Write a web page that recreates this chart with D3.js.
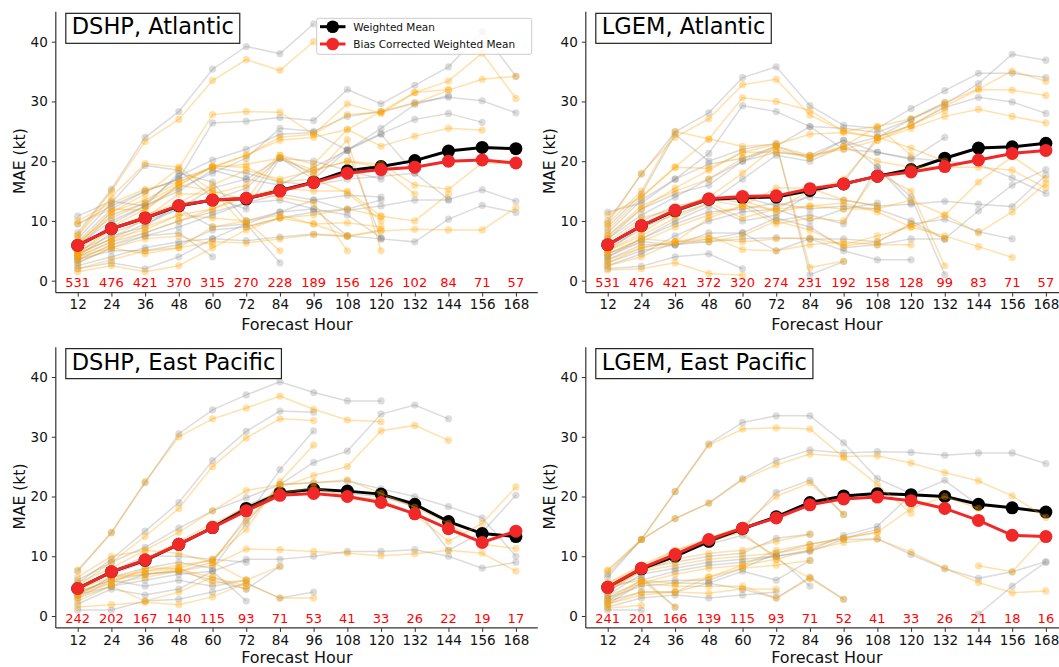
<!DOCTYPE html>
<html><head><meta charset="utf-8">
<script src="https://cdn.jsdelivr.net/npm/d3@7"></script>
<style>body{margin:0;background:#fff}svg{display:block;font-family:"DejaVu Sans",sans-serif}</style>
</head><body><svg id="c" width="1059" height="667"></svg>
<script>
const hours = [12,24,36,48,60,72,84,96,108,120,132,144,156,168];
const yTicks = [0,10,20,30,40];

// ---- DSHP, Atlantic ----
const dshpAtlMean  = [5.9,8.7,10.5,12.5,13.5,13.7,15.1,16.5,18.4,19.1,20.1,21.7,22.3,22.1];
const dshpAtlBias  = [5.9,8.7,10.5,12.6,13.5,13.8,15.0,16.4,18.0,18.6,19.0,20.0,20.2,19.7];
const dshpAtlCount = [531,476,421,370,315,270,228,189,156,126,102,84,71,57];
const dshpAtlRaw = [
 [8.0,15.3,24.0,28.3,35.4,39.2,38.0,43.0],
 [6.5,12.0,15.0,17.0,26.4,26.7,27.3,26.8,32.0,29.6,32.7,35.8,41.7,34.2],
 [5.0,9.5,12.5,15.5,18.0,20.5,25.5,25.0,27.5,28.3,29.8,30.7,30.1,28.1],
 [7.0,13.0,19.3,18.5,14.0,12.0,20.5,18.0,22.0,24.6,27.0,28.0,26.5],
 [4.0,8.0,10.0,12.0,15.5,17.0,16.0,19.0,21.8,24.5,18.0,13.6,15.2,13.3],
 [3.0,5.5,7.5,9.0,11.0,13.0,14.5,13.5,14.3,14.0],
 [2.5,4.0,5.5,6.5,7.0,6.7,7.3,7.8,7.5,7.0,6.5,10.3,12.6,11.4],
 [5.5,11.0,13.0,17.5,20.2,22.0,24.5,24.8,21.8,25.5,29.5,31.0],
 [3.5,6.0,7.5,8.0,4.0],
 [4.5,7.0,9.5,12.0,9.0,9.5,3.0],
 [9.5,12.5,15.0,17.0,19.0,18.0,16.5,16.0,17.0,17.5,18.0],
 [6.0,10.0,12.5,18.0,16.5,10.0,11.5,12.0,11.0,7.2],
 [2.0,3.0,2.0,4.0,7.0,9.5,11.5,13.5,11.8,12.5,13.5,13.5],
 [10.8,13.3,12.5,15.0,18.5,17.0,20.5,20.0,18.5,17.0],
 [3.5,5.0,5.0,6.0,8.5,9.0,10.5,11.5,12.0,13.5],
 [5.0,7.5,9.0,13.0,13.5,15.5,20.5,17.0,21.8,7.0],
 [4.0,6.5,8.0,10.0,11.5,13.0,13.5,12.0,7.5]
];
const dshpAtlCor = [
 [7.6,15.0,23.3,27.0,33.5,37.0,35.2,40.0],
 [6.0,11.5,14.5,18.8,27.8,28.3,28.2,24.5,29.6,28.0,31.5,33.4,38.1,30.5],
 [4.5,9.0,12.0,16.0,19.0,21.0,24.0,24.5,27.8,28.2,29.7,31.9,33.7,34.2],
 [7.5,14.0,19.6,19.0,15.0,13.5,21.0,19.5,25.3,22.5,24.2,25.5,25.2],
 [4.5,8.5,11.0,13.0,16.0,18.5,17.0,18.5,20.0,19.5,16.0,15.3,19.7,19.6],
 [3.5,6.0,8.0,10.0,12.0,14.0,15.5,15.0,15.0,10.8],
 [2.0,3.5,5.0,5.5,6.5,6.3,7.0,7.7,7.4,8.3,8.6,8.5,8.5,12.2],
 [6.0,11.5,13.5,16.5,19.0,21.0,23.5,24.0,25.3,28.3,31.5,32.0],
 [3.0,5.5,7.0,7.5,6.0],
 [4.0,6.5,9.0,11.0,10.5,10.0,5.0],
 [10.0,13.0,15.3,16.5,19.0,19.5,20.5,18.5,20.0,19.0,14.5],
 [6.5,10.5,13.0,16.0,15.0,9.0,10.5,9.5,9.7,9.0],
 [1.5,2.5,1.5,2.5,5.5,8.5,10.5,11.0,12.0,10.8,10.0,14.5],
 [9.5,12.0,11.8,16.0,19.2,19.0,16.5,17.0,14.7,10.0],
 [4.0,5.5,4.5,5.5,9.0,10.0,11.0,9.5,7.5,8.5],
 [4.5,7.0,10.5,14.5,14.5,16.0,21.0,17.5,23.6,5.0],
 [4.5,7.0,8.5,11.0,12.0,14.5,14.0,13.0,5.0]
];

// ---- LGEM, Atlantic ----
const lgemAtlMean  = [6.0,9.2,11.7,13.6,13.9,14.0,15.1,16.2,17.5,18.6,20.5,22.2,22.4,23.0];
const lgemAtlBias  = [6.0,9.2,11.8,13.7,14.1,14.2,15.4,16.2,17.5,18.2,19.1,20.2,21.3,21.8];
const lgemAtlCount = [531,476,421,372,320,274,231,192,158,128,99,83,71,57];
const lgemAtlRaw = [
 [10.0,17.8,24.9,28.1,34.0,35.8,29.3,26.0,25.5,28.8,31.8,34.7,34.7,34.0],
 [8.0,13.5,17.0,21.3,29.3,28.3,25.8,22.0,21.5,20.3,24.0],
 [7.0,11.0,14.0,17.0,20.0,22.5,25.8,25.5,24.8,27.0,29.5,33.0,37.9,36.9],
 [5.0,9.0,11.0,13.0,17.0,21.0,20.0,22.5,24.0,26.0,29.0,30.7,29.9,28.0],
 [3.0,5.0,6.0,6.5,7.0,7.2,7.0,7.0,6.5,9.5,10.3,8.2,7.0],
 [4.0,7.0,9.5,11.5,12.0,13.0,12.0,12.5,12.0,10.0,7.0,11.7,16.0,18.6],
 [6.0,10.0,12.5,13.5,14.0,12.5,14.0,13.5,12.5,12.8,13.3,12.8,12.4,17.7],
 [7.0,12.0,14.5,16.0,20.0,21.5,21.0,23.5,21.5,20.5,20.0,19.5,17.2,14.6],
 [5.5,8.5,12.0,14.0,13.0,10.0,11.0,9.5,19.0,14.0,1.0],
 [9.0,14.5,24.5,20.0,22.0,23.0,1.0,3.2],
 [2.0,2.4,4.0,4.5,2.0],
 [4.5,7.0,10.0,12.5,10.0,11.0,14.5,16.5,24.0,27.0,29.8],
 [3.5,6.0,6.0,7.0,8.0,10.5,9.0,5.5,6.0,7.0,7.0],
 [2.5,4.5,7.5,10.0,11.5,12.0,10.0,12.0,13.0],
 [11.5,13.0,17.0,19.5,20.5,22.5,20.5,23.5,19.0,13.0],
 [4.0,6.5,6.0,8.0,8.0,5.0,7.0,5.0,3.5,3.5]
];
const lgemAtlCor = [
 [9.5,18.0,24.0,27.1,32.8,33.7,27.7,25.0,25.8,27.1,29.8,32.1,35.1,33.4],
 [8.5,14.0,19.0,23.7,30.6,30.0,28.5,25.0,24.0,22.2,20.0],
 [7.5,12.0,15.5,18.5,21.5,22.8,24.5,24.8,24.0,26.0,29.2,32.0,31.9,31.0],
 [5.5,9.5,12.0,14.0,18.0,22.5,21.0,22.0,23.5,25.5,27.5,28.7,27.5,26.4],
 [3.5,5.5,6.5,7.0,6.5,7.0,7.2,6.0,7.5,9.0,7.5,5.7,3.9],
 [4.5,6.5,9.0,11.0,12.5,12.0,12.5,13.0,11.5,9.0,11.0,16.5,20.8,17.0],
 [6.5,10.5,12.0,14.0,13.5,11.5,12.5,12.0,12.0,13.5,11.0,8.0,11.5,16.3],
 [7.5,12.5,15.0,17.0,20.5,22.0,20.5,22.5,20.0,19.0,19.0,19.0,18.5,15.5],
 [5.0,8.0,11.5,13.5,12.5,9.5,10.5,10.0,18.0,15.0,2.5],
 [9.5,15.0,25.0,23.7,22.5,22.8,2.2,3.3],
 [1.8,2.0,3.0,1.2,0.9],
 [5.0,7.5,10.5,13.0,10.5,12.0,15.0,17.0,23.5,26.0,28.5],
 [3.0,5.5,6.5,6.5,7.5,10.0,8.5,5.8,6.5,9.5,7.0],
 [2.5,4.0,6.5,10.5,12.5,15.5,15.5,13.5,12.5],
 [11.0,14.0,19.0,18.8,21.5,21.5,20.8,22.5,25.8,21.0],
 [4.5,7.0,6.5,7.5,5.2,5.0,6.0,6.5,6.0,6.0]
];

// ---- DSHP, East Pacific ----
const dshpEpMean  = [4.6,7.4,9.3,12.0,14.8,18.0,20.6,21.2,20.9,20.4,18.7,15.8,13.8,13.3];
const dshpEpBias  = [4.6,7.4,9.4,12.0,14.8,17.6,20.2,20.5,20.0,19.0,17.1,14.6,12.3,14.2];
const dshpEpCount = [242,202,167,140,115,93,71,53,41,33,26,22,19,17];
const dshpEpRaw = [
 [7.5,14.0,22.3,30.5,34.5,37.0,39.2,37.4,36.0,36.0],
 [5.5,9.5,14.2,19.0,26.0,30.9,34.3,34.1],
 [4.0,6.0,7.0,7.5,9.0,16.5,24.5,31.0],
 [3.5,6.5,8.0,9.0,8.0,15.5,22.0,25.7,27.6,33.8,35.3,33.0],
 [6.0,9.0,11.5,14.7,17.6,19.8,22.0,22.3,22.6,21.3,20.0,18.3,16.4,10.0],
 [3.0,5.0,6.0,7.0,7.5,9.5,9.5,10.0,10.8,10.8,11.1,10.0,8.0,9.0],
 [4.5,7.0,9.0,12.0,15.0,18.5,20.8,21.0,20.5,20.0,18.3,11.0,14.0,20.2],
 [2.0,4.5,3.5,4.5,7.5,2.5],
 [1.0,1.0,2.5,2.8,4.0,5.5,3.0,4.0],
 [3.5,5.0,7.0,7.5,6.0,4.5,8.3],
 [5.0,7.5,10.0,10.0,9.5,9.0],
 [4.0,6.0,5.0,6.0,5.0,6.0]
];
const dshpEpCor = [
 [7.7,13.9,22.5,30.0,33.0,34.8,36.8,34.6,32.8,32.5],
 [5.0,9.0,13.3,18.0,25.0,29.8,33.0,32.7],
 [4.5,6.5,7.5,8.0,9.5,14.5,22.5,28.6],
 [3.0,6.0,7.5,8.5,9.3,16.0,21.5,23.5,25.0,31.0,31.9,29.4],
 [6.5,10.0,11.0,14.0,17.6,21.0,22.0,22.3,22.8,20.5,18.2,15.5,12.0,11.3],
 [3.5,5.5,6.5,7.5,8.5,11.2,11.1,10.8,10.5,10.1,10.4,11.0,10.5,7.5],
 [4.0,7.5,9.5,12.5,15.5,18.0,20.5,21.5,20.0,19.5,17.0,12.5,15.5,21.6],
 [2.5,5.0,2.5,4.0,6.5,4.5],
 [1.5,1.9,2.3,1.9,3.2,5.5,3.0,3.0],
 [4.0,5.5,8.0,8.0,5.5,6.0,8.3],
 [5.5,8.0,11.0,10.5,9.0,6.0],
 [3.5,6.5,7.0,7.8,6.5,5.0]
];

// ---- LGEM, East Pacific ----
const lgemEpMean  = [4.8,7.9,10.0,12.5,14.6,16.6,19.0,20.1,20.5,20.3,20.0,18.7,18.1,17.4];
const lgemEpBias  = [4.8,8.0,10.3,12.8,14.7,16.4,18.6,19.6,19.9,19.3,18.0,16.0,13.5,13.3];
const lgemEpCount = [241,201,166,139,115,93,71,52,41,33,26,21,18,16];
const lgemEpRaw = [
 [7.0,12.8,20.8,28.8,32.4,33.5,33.5,29.0,23.0,20.5],
 [6.5,12.8,16.3,18.9,23.0,26.0,27.8,27.3,27.5,27.4,26.9,27.3,27.3,25.5],
 [5.0,8.0,10.0,12.5,14.5,20.7,22.7,17.0],
 [3.5,7.0,8.0,9.0,9.5,10.0,11.0,13.5,15.0,20.3,22.7,18.5],
 [3.0,6.0,7.5,8.5,9.0,10.0,10.8,12.8,12.9,10.3,7.9,6.3,7.4,9.1],
 [null,null,null,null,null,null,null,null,null,null,null,0.3,5.0,9.0],
 [2.0,5.5,6.0,6.0,8.0,10.5,12.0,13.0,14.5],
 [1.5,3.0,3.5,3.0,3.5,4.0],
 [3.0,5.0,5.5,5.5,4.5,3.0,6.5,2.8],
 [4.0,8.0,9.0,10.0,10.5,13.0,13.7],
 [4.5,6.5,1.5],
 [2.5,4.0,4.0,5.5,7.5,6.0,9.3],
 [5.0,7.5,10.5,12.0,13.5,10.0,5.0],
 [1.0,1.0]
];
const lgemEpCor = [
 [7.7,12.8,20.8,28.6,31.3,31.5,31.3,26.5,22.0,17.2],
 [7.5,12.8,16.3,18.9,22.8,25.3,27.1,26.7,26.8,25.6,24.0,22.6,20.1,16.5],
 [5.5,8.5,11.0,13.0,15.0,20.0,22.3,17.0],
 [4.0,7.5,8.5,9.5,10.0,10.5,11.5,13.0,14.0,18.0,20.0,18.0],
 [2.5,5.5,7.0,8.0,8.5,9.5,11.0,12.3,12.9,10.7,8.0,5.6,3.9,4.2],
 [null,null,null,null,null,null,null,null,null,null,null,8.4,7.4,13.5],
 [2.5,6.0,5.5,6.5,8.5,11.0,12.0,13.0,14.0],
 [2.0,3.5,4.0,3.8,4.5,4.5],
 [3.5,5.5,5.0,5.0,5.0,3.0,6.3,2.8],
 [4.5,7.5,9.5,10.5,11.0,12.5,13.7],
 [5.0,6.0,1.5],
 [2.0,4.0,4.0,6.5,8.0,8.5,9.3],
 [5.5,8.0,11.0,12.5,14.0,9.5,6.3],
 [1.3,1.8]
];

const panels = [
 {title:"DSHP, Atlantic", mean:dshpAtlMean, bias:dshpAtlBias, count:dshpAtlCount, raw:dshpAtlRaw, cor:dshpAtlCor, x0:55.8, y0:280.7, legend:true},
 {title:"LGEM, Atlantic", mean:lgemAtlMean, bias:lgemAtlBias, count:lgemAtlCount, raw:lgemAtlRaw, cor:lgemAtlCor, x0:585.8, y0:280.7},
 {title:"DSHP, East Pacific", mean:dshpEpMean, bias:dshpEpBias, count:dshpEpCount, raw:dshpEpRaw, cor:dshpEpCor, x0:55.8, y0:616},
 {title:"LGEM, East Pacific", mean:lgemEpMean, bias:lgemEpBias, count:lgemEpCount, raw:lgemEpRaw, cor:lgemEpCor, x0:585.8, y0:616}
];

const svg = d3.select("#c");
const W = 482, PXU = 5.975;
const GRAY = "#808080", ORANGE = "#ffa500", RED = "#f02828";

panels.forEach(p => {
  const x = d3.scaleLinear().domain([4.2, 175.8]).range([p.x0, p.x0 + W]);
  const y = d3.scaleLinear().domain([0, 40]).range([p.y0, p.y0 - 40 * PXU]);
  const yBot = y(-2), yTop = y(45);
  const g = svg.append("g");
  const line = d3.line().defined(d => d[1] != null).x(d => x(d[0])).y(d => y(d[1]));

  function storms(sets, color, op) {
    sets.forEach(s => {
      const pts = s.map((v, i) => [hours[i], v]);
      g.append("path").attr("d", line(pts)).attr("fill", "none")
        .attr("stroke", color).attr("stroke-opacity", op).attr("stroke-width", 1.5);
      g.selectAll(null).data(pts.filter(d => d[1] != null)).join("circle")
        .attr("cx", d => x(d[0])).attr("cy", d => y(d[1])).attr("r", 3.6)
        .attr("fill", color).attr("fill-opacity", op);
    });
  }
  function meanLine(vals, color, w, r) {
    const pts = vals.map((v, i) => [hours[i], v]);
    g.append("path").attr("d", line(pts)).attr("fill", "none")
      .attr("stroke", color).attr("stroke-width", w);
    g.selectAll(null).data(pts).join("circle")
      .attr("cx", d => x(d[0])).attr("cy", d => y(d[1])).attr("r", r).attr("fill", color);
  }
  storms(p.raw, GRAY, 0.28);
  meanLine(p.mean, "#000", 3, 6.5);
  storms(p.cor, ORANGE, 0.33);
  meanLine(p.bias, RED, 3, 6.5);

  // counts
  g.selectAll(null).data(p.count).join("text")
    .attr("x", (d, i) => x(hours[i])).attr("y", y(0) + 6.5)
    .attr("text-anchor", "middle").attr("font-size", 13).attr("fill", "#ff0000")
    .text(d => d);

  // axes
  const xa = g.append("g").attr("transform", `translate(0,${yBot})`)
    .call(d3.axisBottom(x).tickValues(hours).tickSize(4).tickPadding(3));
  const ya = g.append("g").attr("transform", `translate(${p.x0},0)`)
    .call(d3.axisLeft(y).tickValues(yTicks).tickSize(4).tickPadding(4));
  [xa, ya].forEach(a => {
    a.selectAll("text").attr("font-size", 13.5).attr("fill", "#111").attr("font-family", "DejaVu Sans");
    a.selectAll("line").attr("stroke", "#333");
    a.select(".domain").remove();
  });
  g.append("line").attr("x1", p.x0).attr("x2", p.x0 + W).attr("y1", yBot).attr("y2", yBot)
    .attr("stroke", "#333").attr("stroke-width", 1.2);
  g.append("line").attr("x1", p.x0).attr("x2", p.x0).attr("y1", yTop).attr("y2", yBot)
    .attr("stroke", "#333").attr("stroke-width", 1.2);

  g.append("text").attr("x", x(90)).attr("y", Math.min(yBot + 37.5, 663)).attr("text-anchor", "middle")
    .attr("font-size", 16).attr("fill", "#111").text("Forecast Hour");
  g.append("text").attr("transform", `translate(${p.x0 - 31},${y(20)}) rotate(-90)`)
    .attr("text-anchor", "middle").attr("font-size", 15.5).attr("fill", "#111").text("MAE (kt)");

  // title box
  const t = g.append("text").attr("x", p.x0 + 16).attr("y", yTop + 22.5)
    .attr("font-size", 22.5).attr("fill", "#000").text(p.title);
  const bb = t.node().getBBox();
  g.insert("rect", () => t.node()).attr("x", p.x0 + 10).attr("y", yTop + 1.5)
    .attr("width", bb.width + 12).attr("height", 30)
    .attr("fill", "#fff").attr("stroke", "#222").attr("stroke-width", 1.2);

  if (p.legend) {
    const lg = g.append("g");
    lg.append("rect").attr("x", 316.7).attr("y", 18.3).attr("width", 215).attr("height", 36)
      .attr("rx", 2).attr("fill", "#fff").attr("fill-opacity", 0.8).attr("stroke", "#ccc");
    [["Weighted Mean", "#000", 26.7], ["Bias Corrected Weighted Mean", RED, 44]].forEach(([lab, c, yy]) => {
      lg.append("line").attr("x1", 320).attr("x2", 345.5).attr("y1", yy).attr("y2", yy)
        .attr("stroke", c).attr("stroke-width", 3);
      lg.append("circle").attr("cx", 332.7).attr("cy", yy).attr("r", 6.3).attr("fill", c);
      lg.append("text").attr("x", 353.3).attr("y", yy + 3.8).attr("font-size", 10.5)
        .attr("fill", "#111").text(lab);
    });
  }
});
</script></body></html>
